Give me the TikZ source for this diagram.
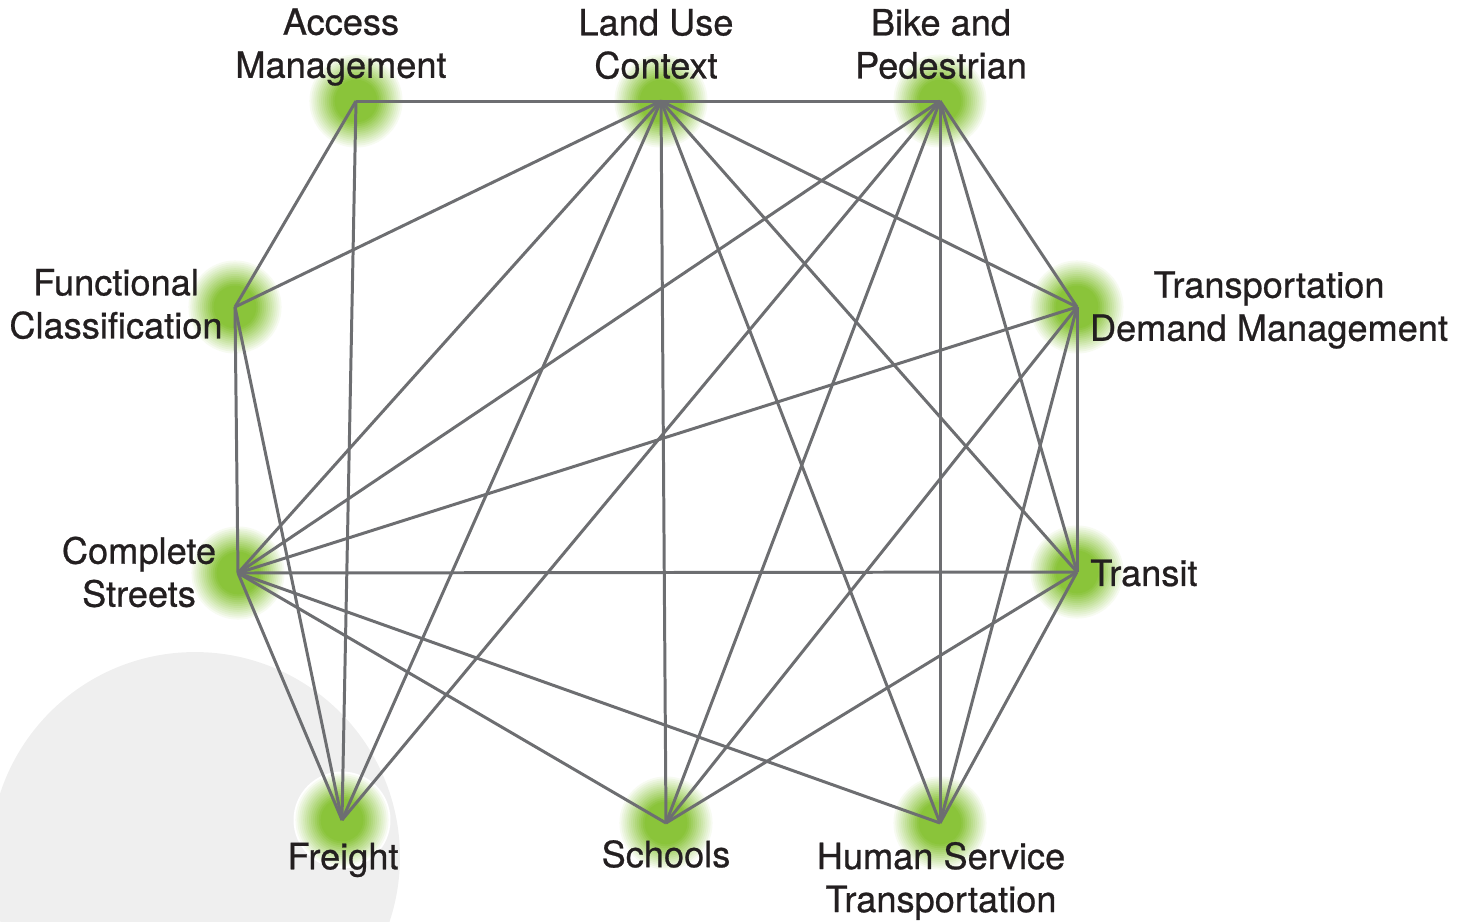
\documentclass[tikz,border=0pt]{standalone}
\usepackage{fontspec}
\setmainfont{TeX Gyre Heros}
\newfontfamily\lblfont{TeX Gyre Heros}[FakeBold=0.7]

\definecolor{glowgreen}{RGB}{138,196,58}
\definecolor{linkgray}{RGB}{109,110,113}
\definecolor{bggray}{RGB}{239,239,239}
\definecolor{inkblack}{RGB}{35,31,32}

\tikzset{
  link/.style={draw=linkgray,line width=1.7pt},
  lbl/.style={align=center,inner sep=0pt,text=inkblack,
    font=\lblfont\fontsize{20.6}{24.5}\selectfont},
}

\begin{document}
\begin{tikzpicture}[x=0.02cm,y=-0.02cm]
		\useasboundingbox (0,0) rectangle (1472,921);
		
		% Grey disc, bottom left
		\begin{scope}
			\clip (0,0) rectangle (1472,921);
			\fill[bggray] (195,857) circle (4.1cm);
		\end{scope}
		
		% Hubs
		\coordinate (access) at (356,101);
		\coordinate (landuse) at (661,101);
		\coordinate (bike) at (940,101);
		\coordinate (functional) at (235,307);
		\coordinate (tdm) at (1077,307);
		\coordinate (complete) at (238,573);
		\coordinate (transit) at (1077,572);
		\coordinate (freight) at (342,820);
		\coordinate (schools) at (666,823);
		\coordinate (human) at (940,823);
		
		% Glow round each hub, ring by ring
		\foreach \h in {access,landuse,bike,functional,tdm,complete,transit,freight,schools,human}
			\foreach \i in {0,...,24}{
				\pgfmathsetmacro\rad{0.97*(1-\i/25)}
				\pgfmathsetmacro\pct{min(100,100*(\i/25)/0.55)}
				\fill[glowgreen!\pct!white] (\h) circle (\rad cm);
			}
		
		% Links
		\foreach \a/\b in {access/landuse, access/functional, access/freight,
			landuse/bike, landuse/functional, landuse/complete, landuse/freight,
			landuse/schools, landuse/human, landuse/transit, landuse/tdm,
			bike/complete, bike/freight, bike/schools, bike/human, bike/transit, bike/tdm,
			functional/complete, functional/freight,
			tdm/complete, tdm/transit, tdm/schools, tdm/human,
			complete/transit, complete/schools, complete/human, complete/freight,
			transit/schools, transit/human}
			\draw[link] (\a) -- (\b);
		
		% Labels
		\node[lbl] (accesslbl) at (341,47) {Access\\Management};
		\node[lbl] (landuselbl) at (656,44) {Land Use\\Context};
		\node[lbl] (bikelbl) at (941,44) {Bike and\\Pedestrian};
		\node[lbl] (functionallbl) at (116,304) {Functional\\Classification};
		\node[lbl] (tdmlbl) at (1269,310) {Transportation\\Demand Management};
		\node[lbl] (completelbl) at (139,572) {Complete\\Streets};
		\node[lbl,anchor=west] (transitlbl) at (1090,573) {Transit};
		\node[lbl] (freightlbl) at (343,860) {Freight};
		\node[lbl] (schoolslbl) at (666,854) {Schools};
		\node[lbl] (humanlbl) at (941,881) {Human Service\\Transportation};
\end{tikzpicture}
\end{document}
